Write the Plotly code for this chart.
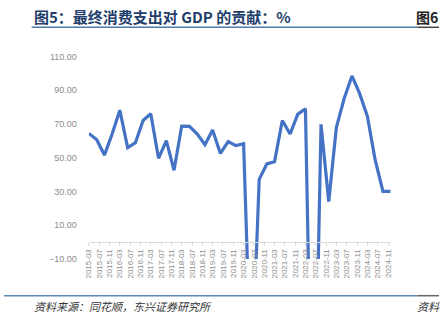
import plotly.graph_objects as go

# ---- data ----
quarters = [
    "2015-03", "2015-06", "2015-09", "2015-12",
    "2016-03", "2016-06", "2016-09", "2016-12",
    "2017-03", "2017-06", "2017-09", "2017-12",
    "2018-03", "2018-06", "2018-09", "2018-12",
    "2019-03", "2019-06", "2019-09", "2019-12",
    "2020-03", "2020-06", "2020-09", "2020-12",
    "2021-03", "2021-06", "2021-09", "2021-12",
    "2022-03", "2022-06", "2022-09", "2022-12",
    "2023-03", "2023-06", "2023-09", "2023-12",
    "2024-03", "2024-06", "2024-09", "2024-12",
]
contribution = [
    64.3, 60.7, 51.5, 64.0,
    78.1, 55.9, 58.8, 72.0,
    76.0, 49.6, 60.1, 42.5,
    68.7, 68.5, 64.0, 57.6,
    66.3, 52.5, 59.5, 57.1,
    58.2, -85.0, 37.1, 46.3,
    47.6, 72.0, 64.0, 75.8,
    78.9, -160.0, 69.7, 24.0,
    67.8, 85.0, 98.4, 87.9,
    74.5, 48.6, 30.0, 30.0,
]
y_ticks = [-10, 10, 30, 50, 70, 90, 110]

title_text = "图5：最终消费支出对 GDP 的贡献：%"
source_text = "资料来源：同花顺，东兴证券研究所"

W, H = 441, 323
PL, PR, PT, PB = 86, 392, 53, 262   # plot area in pixels

def px_x(x):
    return x / W

def px_y(y):
    return 1 - y / H

dates = [q + "-01" for q in quarters]

fig = go.Figure()
fig.add_trace(go.Scatter(
    x=dates, y=contribution, mode="lines",
    line=dict(color="#4472C4", width=3.2),
    hoverinfo="skip", showlegend=False,
))

ymin, ymax = -10, 110
zero_px = PB - (0 - ymin) / (ymax - ymin) * (PB - PT)

fig.update_layout(
    width=W, height=H,
    margin=dict(l=0, r=0, t=0, b=0, pad=0),
    paper_bgcolor="white", plot_bgcolor="white",
    font=dict(family="Liberation Sans, Arial, sans-serif", color="#8c8c8c"),
    xaxis=dict(
        domain=[px_x(PL), px_x(PR)],
        type="date",
        range=[dates[0], dates[-1]],
        tick0="2015-03-01", dtick="M4", tickformat="%Y-%m",
        tickangle=-90,
        tickfont=dict(size=8, color="#8c8c8c"),
        ticks="outside", ticklen=3, tickcolor="#d9d9d9", tickwidth=1,
        showline=True, linecolor="#d9d9d9", linewidth=1,
        showgrid=False, zeroline=False,
        anchor="free", position=px_y(zero_px),
    ),
    yaxis=dict(
        domain=[px_y(PB), px_y(PT)],
        range=[ymin, ymax],
        tickvals=y_ticks, tickformat=".2f",
        tickfont=dict(size=9, color="#8c8c8c"),
        showgrid=False, zeroline=False, showline=False,
        ticks="", ticklabelstandoff=11,
    ),
)

def label(xp, yp, text, size, color, bold=False, italic=False):
    fig.add_annotation(
        x=px_x(xp), y=px_y(yp), xref="paper", yref="paper",
        text=f"<b>{text}</b>" if bold else (f"<i>{text}</i>" if italic else text),
        showarrow=False, xanchor="left", yanchor="middle",
        font=dict(family="Noto Sans CJK SC", size=size, color=color),
    )

label(28, 12, title_text, 15, "#1F3E6B", bold=True)
label(416, 12, "图6", 14, "#222222", bold=True)
label(28, 311, source_text, 11, "#333333", italic=True)
label(417, 311, "资料", 11, "#333333", italic=True)

def hline(x0, x1, ypix, color, width):
    fig.add_shape(
        type="line", xref="paper", yref="paper",
        x0=px_x(x0), x1=px_x(x1), y0=px_y(ypix), y1=px_y(ypix),
        line=dict(color=color, width=width),
    )

hline(28, 419, 23, "#4F7BAA", 1.5)
hline(419, 441, 23, "#444444", 1.5)
hline(0, 419, 300, "#5B87B3", 1.5)
hline(419, 441, 300, "#666666", 1.5)

fig.write_html("out.html")
